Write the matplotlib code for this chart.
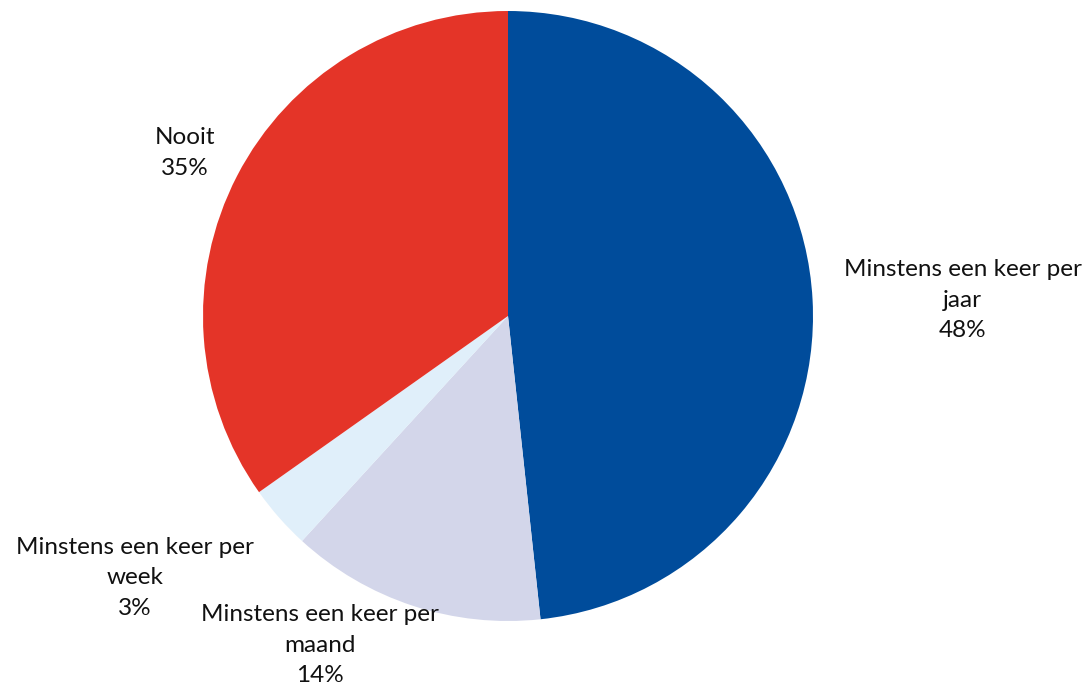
import matplotlib.pyplot as plt

plt.rcParams['font.family'] = ['Lato', 'DejaVu Sans']

labels = ['Minstens een keer per\njaar', 'Minstens een keer per\nmaand',
          'Minstens een keer per\nweek', 'Nooit']
shares = [48.3, 13.5, 3.4, 34.8]
pct_text = ['48%', '14%', '3%', '35%']
colors = ['#004C9B', '#D3D6EA', '#E0EFFA', '#E43428']
# label centres in axes data units (pie radius = 1)
label_pos = [(1.49, 0.052), (-0.616, -1.079), (-1.223, -0.859), (-1.059, 0.534)]

fig = plt.figure(figsize=(10.86, 6.9), dpi=100)
ax = fig.add_axes([(508 - 305) / 1086, (690 - 316 - 305) / 690, 610 / 1086, 610 / 690])
ax.pie(shares, colors=colors, startangle=90, counterclock=False, radius=1,
       wedgeprops=dict(linewidth=0))
ax.set_xlim(-1, 1)
ax.set_ylim(-1, 1)
ax.axis('off')

for lab, pct, (x, y) in zip(labels, pct_text, label_pos):
    ax.text(x, y, lab + '\n' + pct, ha='center', va='center', fontsize=17.5,
            linespacing=1.55, color='#111111', clip_on=False)

fig.savefig('out.png', dpi=100)
